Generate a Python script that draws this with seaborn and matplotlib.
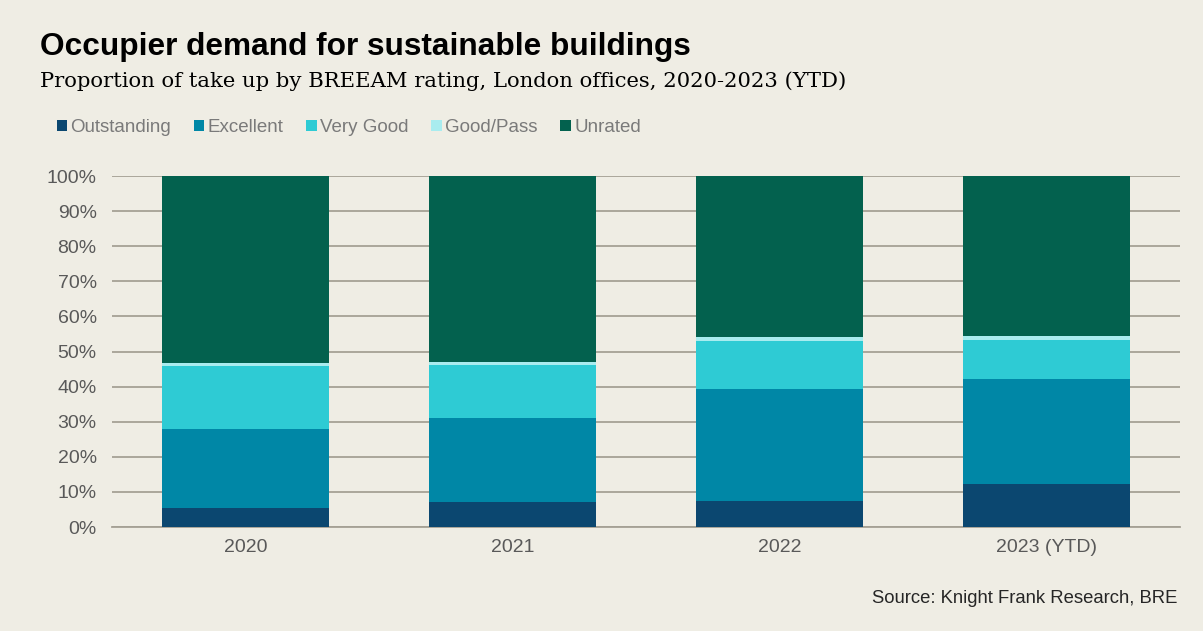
import matplotlib
matplotlib.use("Agg")
import matplotlib.pyplot as plt
import seaborn as sns
import pandas as pd
import numpy as np
from matplotlib.patches import Patch

years = ["2020", "2021", "2022", "2023 (YTD)"]
series = ["Outstanding", "Excellent", "Very Good", "Good/Pass", "Unrated"]
outstanding = [5.4, 7.0, 7.5, 12.3]
excellent = [22.5, 24.1, 31.7, 29.8]
very_good = [18.0, 15.1, 13.9, 11.2]
good_pass = [0.8, 0.9, 0.9, 1.2]
unrated = [53.3, 52.9, 46.0, 45.5]
colors = ["#0b4770", "#0087a6", "#2ecbd4", "#a9ecef", "#03614e"]

values = [outstanding, excellent, very_good, good_pass, unrated]

bg = "#efede4"
sns.set_theme(style="white")
plt.rcParams["font.family"] = ["Liberation Sans", "DejaVu Sans"]

fig = plt.figure(figsize=(12.03, 6.31), dpi=100, facecolor=bg)
ax = fig.add_axes([112 / 1203, 104 / 631, 1068 / 1203, 351 / 631], facecolor=bg)

cum = np.cumsum(np.array(values), axis=0)
for i in reversed(range(len(series))):
    df = pd.DataFrame({"year": years, "top": cum[i]})
    sns.barplot(data=df, x="year", y="top", color=colors[i], width=0.625,
                saturation=1, ax=ax, linewidth=0, zorder=3)

ax.set_ylim(0, 100)
ax.set_xlim(-0.5, 3.5)
ax.set_yticks(np.arange(0, 101, 10))
ax.set_yticklabels([f"{v}%" for v in range(0, 101, 10)])
ax.yaxis.grid(True, color="#a5a195", linewidth=1.3, zorder=0)
ax.set_axisbelow(True)
for s in ["top", "right", "left"]:
    ax.spines[s].set_visible(False)
ax.spines["bottom"].set_color("#a5a195")
ax.spines["bottom"].set_linewidth(1.3)
ax.set_xlabel("")
ax.set_ylabel("")
ax.tick_params(axis="both", length=0, labelsize=14, colors="#595959", pad=8)
ax.tick_params(axis="y", pad=11)
ax.tick_params(axis="x", pad=9)

fig.text(0.033, 0.925, "Occupier demand for sustainable buildings", fontsize=22.8,
         fontweight="bold", color="black", va="center", ha="left")
fig.text(0.033, 0.872, "Proportion of take up by BREEAM rating, London offices, 2020-2023 (YTD)",
         fontsize=15.2, color="black", va="center", ha="left",
         family=["DejaVu Serif"])

handles = [Patch(facecolor=c, edgecolor="none") for c in colors]
fig.legend(handles, series, loc="center left", bbox_to_anchor=(0.047, 0.798),
           ncol=5, frameon=False, fontsize=13.5, handlelength=0.55, handleheight=0.55,
           handletextpad=0.2, columnspacing=1.2, labelcolor="#7a7a7a",
           borderpad=0, borderaxespad=0)

fig.text(0.979, 0.052, "Source: Knight Frank Research, BRE", fontsize=13.3,
         color="#262626", ha="right", va="center")

fig.savefig("out.png", dpi=100, facecolor=bg)
